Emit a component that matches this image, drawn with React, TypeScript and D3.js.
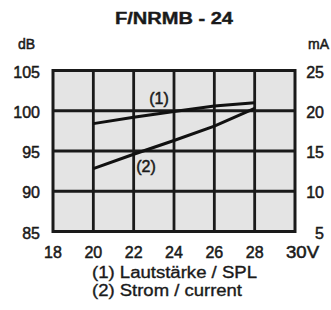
import React from "react";
import * as d3 from "d3";

const voltages = [20, 22, 24, 26, 28];
const splValues = [98.4, 99.2, 99.9, 100.6, 101.0];
const currentValues = [12.8, 14.6, 16.3, 18.1, 20.3];
const xTicks = [18, 20, 22, 24, 26, 28, 30];
const leftTicks = [85, 90, 95, 100, 105];
const rightTicks = [5, 10, 15, 20, 25];
const title = "F/NRMB - 24";
const legendLines = ["(1) Lautstärke / SPL", "(2) Strom / current"];

const W = 331, H = 310;
const L = 53, R = 295, T = 70.5, B = 231.5;

export default function App() {
  const x = d3.scaleLinear().domain([18, 30]).range([L, R]);
  const yL = d3.scaleLinear().domain([85, 105]).range([B, T]);
  const yR = d3.scaleLinear().domain([5, 25]).range([B, T]);
  const line1 = d3.line<number>().x((_, i) => x(voltages[i])).y((d) => yL(d));
  const line2 = d3.line<number>().x((_, i) => x(voltages[i])).y((d) => yR(d));
  const font = "'Liberation Sans', Arial, sans-serif";
  const ink = "#1a1a1a";
  const sw = 0.5;
  return (
    <svg width={W} height={H} style={{ position: "absolute", left: 0, top: 0, background: "#fff" }} fontFamily={font}>
      <rect x={0} y={0} width={W} height={H} fill="#fff" />
      <text x={174} y={24} textAnchor="middle" fontSize={16} fontWeight="bold" fill={ink} stroke={ink} strokeWidth={0.4}
        textLength={118} lengthAdjust="spacingAndGlyphs">{title}</text>
      <text x={18} y={49} fontSize={14} fill={ink} stroke={ink} strokeWidth={sw}>dB</text>
      <text x={329} y={49} textAnchor="end" fontSize={14} fill={ink} stroke={ink} strokeWidth={sw}>mA</text>
      <rect x={L} y={T} width={R - L} height={B - T} fill="#e4e4e4" />
      {xTicks.slice(1, -1).map((v) => (
        <line key={"gx" + v} x1={x(v)} x2={x(v)} y1={T} y2={B} stroke={ink} strokeWidth={2.8} />
      ))}
      {leftTicks.slice(1, -1).map((v) => (
        <line key={"gy" + v} x1={L} x2={R} y1={yL(v)} y2={yL(v)} stroke={ink} strokeWidth={2.8} />
      ))}
      <rect x={L} y={T} width={R - L} height={B - T} fill="none" stroke={ink} strokeWidth={3} />
      <path d={line1(splValues) || ""} fill="none" stroke="#111" strokeWidth={3} />
      <path d={line2(currentValues) || ""} fill="none" stroke="#111" strokeWidth={3} />
      <text x={159} y={104} textAnchor="middle" fontSize={16} fill={ink} stroke={ink} strokeWidth={sw}>(1)</text>
      <text x={146} y={172} textAnchor="middle" fontSize={16} fill={ink} stroke={ink} strokeWidth={sw}>(2)</text>
      {leftTicks.map((v) => (
        <text key={"l" + v} x={40} y={yL(v) + 7} textAnchor="end" fontSize={16} fill={ink} stroke={ink} strokeWidth={sw}>{v}</text>
      ))}
      {rightTicks.map((v) => (
        <text key={"r" + v} x={324} y={yR(v) + 7} textAnchor="end" fontSize={16} fill={ink} stroke={ink} strokeWidth={sw}>{v}</text>
      ))}
      {xTicks.map((v, i) =>
        i === xTicks.length - 1 ? (
          <text key={"x" + v} x={x(v) - 9} y={258} textAnchor="start" fontSize={16} fill={ink} stroke={ink} strokeWidth={sw}
            textLength={33} lengthAdjust="spacingAndGlyphs">{v + "V"}</text>
        ) : (
          <text key={"x" + v} x={x(v)} y={258} textAnchor="middle" fontSize={16} fill={ink} stroke={ink} strokeWidth={sw}>{v}</text>
        )
      )}
      <text x={92} y={278} fontSize={16} fill={ink} stroke={ink} strokeWidth={0.35}
        textLength={165} lengthAdjust="spacingAndGlyphs">{legendLines[0]}</text>
      <text x={92} y={296} fontSize={16} fill={ink} stroke={ink} strokeWidth={0.35}
        textLength={150} lengthAdjust="spacingAndGlyphs">{legendLines[1]}</text>
    </svg>
  );
}
